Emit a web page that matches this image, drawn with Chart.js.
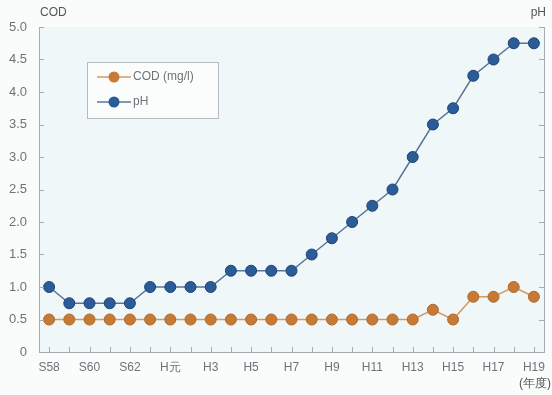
<!DOCTYPE html>
<html>
<head>
<meta charset="utf-8">
<script src="https://cdn.jsdelivr.net/npm/chart.js@4/dist/chart.umd.min.js"></script>
<style>
html, body { margin: 0; padding: 0; background: #fafcfc; }
#wrap { position: relative; width: 552px; height: 395px; }
</style>
</head>
<body>
<div id="wrap"><canvas id="chart" width="552" height="395"></canvas></div>
<script>
// 年度
var years = ['S58','S59','S60','S61','S62','S63','H元','H2','H3','H4','H5','H6','H7',
             'H8','H9','H10','H11','H12','H13','H14','H15','H16','H17','H18','H19'];
// COD (mg/l)
var codValues = [0.5,0.5,0.5,0.5,0.5,0.5,0.5,0.5,0.5,0.5,0.5,0.5,0.5,
                 0.5,0.5,0.5,0.5,0.5,0.5,0.65,0.5,0.85,0.85,1.0,0.85];
// pH
var phValues = [1.0,0.75,0.75,0.75,0.75,1.0,1.0,1.0,1.0,1.25,1.25,1.25,1.25,
                1.5,1.75,2.0,2.25,2.5,3.0,3.5,3.75,4.25,4.5,4.75,4.75];
var legendLabels = ['COD (mg/l)', 'pH'];

var axisColor = '#a3acae';
var textColor = '#6c7477';
var orange = '#c77a35';
var blue = '#2b5c98';

// 軸の内向き目盛り・軸タイトル・凡例
var decor = {
    id: 'decor',
    beforeDraw: function(chart) {
        var a = chart.chartArea, c = chart.ctx;
        c.save();
        c.fillStyle = '#eff7f9';
        c.fillRect(a.left, a.top, a.right - a.left, a.bottom - a.top);
        c.restore();
    },
    afterDraw: function(chart) {
        var a = chart.chartArea, c = chart.ctx;
        var xs = chart.scales.x, ys = chart.scales.y;
        c.save();
        c.strokeStyle = axisColor;
        c.lineWidth = 1;
        c.beginPath();
        years.forEach(function(y, i) {
            var px = Math.round(xs.getPixelForValue(i)) + 0.5;
            c.moveTo(px, a.bottom);
            c.lineTo(px, a.bottom - 5);
        });
        ys.ticks.forEach(function(t) {
            var py = Math.round(ys.getPixelForValue(t.value)) + 0.5;
            c.moveTo(a.left, py);
            c.lineTo(a.left + 5, py);
            c.moveTo(a.right, py);
            c.lineTo(a.right - 5, py);
        });
        c.stroke();

        c.fillStyle = '#4f5658';
        c.font = '12px "Liberation Sans"';
        c.textBaseline = 'middle';
        c.textAlign = 'left';
        c.fillText('COD', a.left + 1, 13);
        c.textAlign = 'right';
        c.fillText('pH', a.right + 2, 13);
        c.fillText('(年度)', 551, 384);

        // 凡例
        var lx = 87, ly = 62, lw = 131, lh = 56;
        c.fillStyle = '#fbfdfd';
        c.fillRect(lx, ly, lw, lh);
        c.strokeStyle = '#b4bcbe';
        c.strokeRect(lx + 0.5, ly + 0.5, lw, lh);
        var items = [[legendLabels[0], orange, '#d49a62'], [legendLabels[1], blue, '#5a7596']];
        items.forEach(function(it, k) {
            var cy = ly + 15 + k * 25;
            c.strokeStyle = it[2];
            c.lineWidth = 1.5;
            c.beginPath();
            c.moveTo(lx + 10, cy);
            c.lineTo(lx + 44, cy);
            c.stroke();
            c.fillStyle = it[1];
            c.beginPath();
            c.arc(lx + 27, cy, 5.5, 0, Math.PI * 2);
            c.fill();
            c.fillStyle = textColor;
            c.textAlign = 'left';
            c.font = '12px "Liberation Sans"';
            c.fillText(it[0], lx + 46, cy);
        });
        c.restore();
    }
};

var ctx = document.getElementById('chart').getContext('2d');
var myChart = new Chart(ctx, {
    type: 'line',
    data: {
        labels: years,
        datasets: [{
            label: legendLabels[0],
            data: codValues,
            borderColor: '#d49a62',
            borderWidth: 1.5,
            backgroundColor: orange,
            pointBackgroundColor: orange,
            pointBorderColor: '#b0692c',
            pointBorderWidth: 1,
            pointRadius: 5.5,
            tension: 0,
            yAxisID: 'y'
        }, {
            label: legendLabels[1],
            data: phValues,
            borderColor: '#5a7596',
            borderWidth: 1.5,
            backgroundColor: blue,
            pointBackgroundColor: blue,
            pointBorderColor: '#1f4577',
            pointBorderWidth: 1,
            pointRadius: 5.5,
            tension: 0,
            yAxisID: 'y'
        }]
    },
    options: {
        responsive: false,
        animation: false,
        layout: { padding: { top: 27, left: 0, right: 0, bottom: 0 } },
        plugins: {
            legend: { display: false },
            tooltip: { enabled: false }
        },
        scales: {
            x: {
                offset: true,
                grid: { display: false },
                border: { color: axisColor },
                ticks: {
                    autoSkip: false,
                    maxRotation: 0,
                    padding: 0,
                    color: textColor,
                    font: { family: 'Liberation Sans', size: 12 },
                    callback: function(v, i) { return i % 2 === 0 ? years[i] : ''; }
                },
                afterFit: function(s) { s.height = 43; }
            },
            y: {
                min: 0,
                max: 5,
                grid: { display: false },
                border: { color: axisColor },
                ticks: {
                    stepSize: 0.5,
                    padding: 4,
                    color: textColor,
                    font: { family: 'Liberation Sans', size: 13 },
                    callback: function(v) { return v === 0 ? '0' : v.toFixed(1); }
                },
                afterFit: function(s) { s.width = 39; }
            },
            y2: {
                position: 'right',
                min: 0,
                max: 5,
                grid: { display: false },
                border: { color: axisColor },
                ticks: { display: false, stepSize: 0.5 },
                afterFit: function(s) { s.width = 8; }
            }
        }
    },
    plugins: [decor]
});
</script>
</body>
</html>
